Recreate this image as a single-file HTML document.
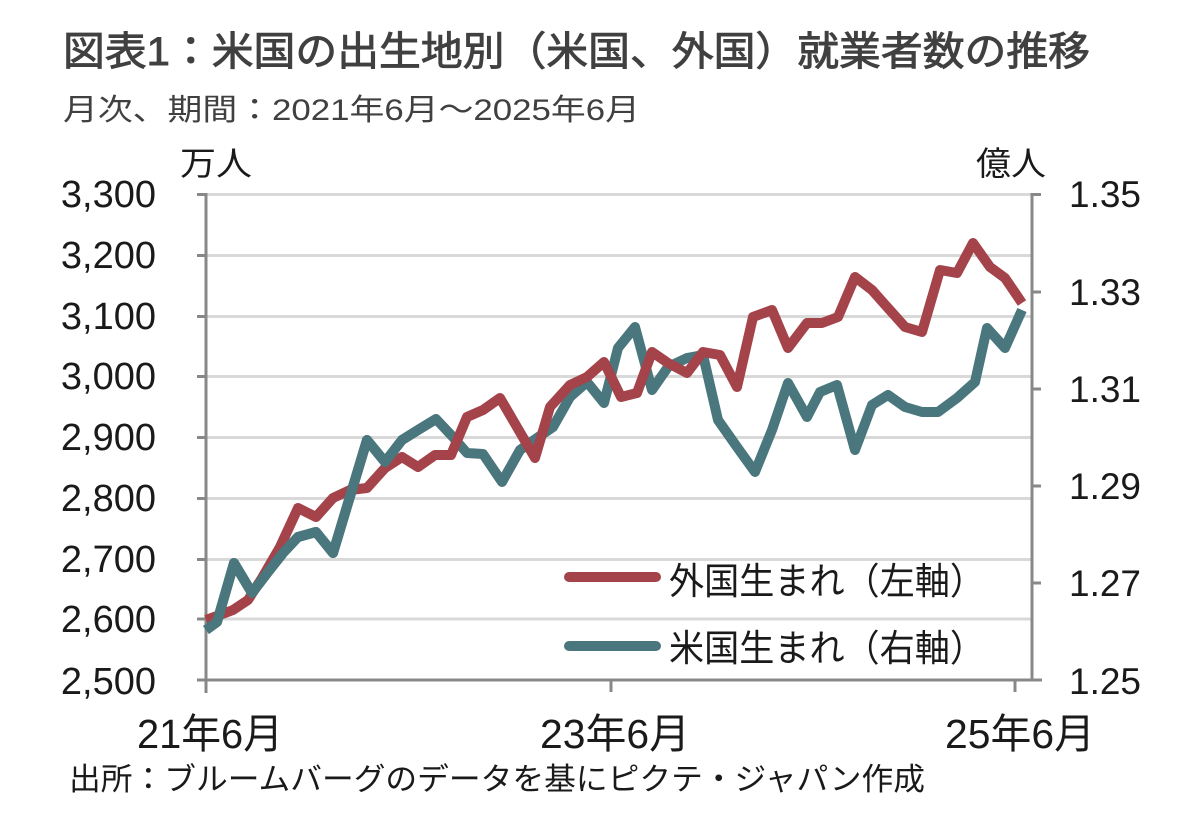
<!DOCTYPE html>
<html>
<head>
<meta charset="utf-8">
<style>
  html, body { margin:0; padding:0; background:#ffffff; }
  body { width:1182px; height:822px; overflow:hidden; }
  svg { display:block; }
  text { font-family: "Liberation Sans", "Noto Sans CJK JP", sans-serif; }
</style>
</head>
<body>
<svg width="1182" height="822" viewBox="0 0 1182 822" xmlns="http://www.w3.org/2000/svg">
  <rect x="0" y="0" width="1182" height="822" fill="#ffffff"/>

  <!-- Title -->
  <text x="63" y="65" font-size="40" fill="#404040" stroke="#404040" stroke-width="0.9" textLength="1027" lengthAdjust="spacingAndGlyphs">図表1：米国の出生地別（米国、外国）就業者数の推移</text>
  <!-- Subtitle -->
  <text x="63" y="120" font-size="30" fill="#404040" textLength="577" lengthAdjust="spacingAndGlyphs">月次、期間：2021年6月～2025年6月</text>

  <!-- unit labels -->
  <text x="180" y="175" font-size="33" fill="#1a1a1a" textLength="72" lengthAdjust="spacingAndGlyphs">万人</text>
  <text x="976" y="175" font-size="33" fill="#1a1a1a" textLength="70" lengthAdjust="spacingAndGlyphs">億人</text>

  <!-- gridlines -->
  <g stroke="#d9d9d9" stroke-width="3">
    <line x1="206" y1="194.5" x2="1032" y2="194.5"/>
    <line x1="206" y1="255.5" x2="1032" y2="255.5"/>
    <line x1="206" y1="316.5" x2="1032" y2="316.5"/>
    <line x1="206" y1="376.5" x2="1032" y2="376.5"/>
    <line x1="206" y1="437.5" x2="1032" y2="437.5"/>
    <line x1="206" y1="498.5" x2="1032" y2="498.5"/>
    <line x1="206" y1="559.5" x2="1032" y2="559.5"/>
    <line x1="206" y1="619" x2="1032" y2="619"/>
  </g>

  <!-- axes -->
  <g stroke="#888888" stroke-width="3" fill="none">
    <line x1="206" y1="193" x2="206" y2="693"/>
    <line x1="197" y1="680" x2="1042" y2="680"/>
    <line x1="1032" y1="193" x2="1032" y2="681"/>
    <!-- left ticks -->
    <line x1="197" y1="194.5" x2="206" y2="194.5"/>
    <line x1="197" y1="255.5" x2="206" y2="255.5"/>
    <line x1="197" y1="316.5" x2="206" y2="316.5"/>
    <line x1="197" y1="376.5" x2="206" y2="376.5"/>
    <line x1="197" y1="437.5" x2="206" y2="437.5"/>
    <line x1="197" y1="498.5" x2="206" y2="498.5"/>
    <line x1="197" y1="559.5" x2="206" y2="559.5"/>
    <line x1="197" y1="619" x2="206" y2="619"/>
    <!-- right ticks -->
    <line x1="1032" y1="194.5" x2="1041" y2="194.5"/>
    <line x1="1032" y1="292" x2="1041" y2="292"/>
    <line x1="1032" y1="389" x2="1041" y2="389"/>
    <line x1="1032" y1="486" x2="1041" y2="486"/>
    <line x1="1032" y1="583" x2="1041" y2="583"/>
    <!-- bottom ticks -->
    <line x1="611" y1="680" x2="611" y2="692"/>
    <line x1="1015" y1="680" x2="1015" y2="692"/>
  </g>

  <!-- left axis labels -->
  <g font-size="38" fill="#1a1a1a" text-anchor="end">
    <text x="156" y="207">3,300</text>
    <text x="156" y="268">3,200</text>
    <text x="156" y="329">3,100</text>
    <text x="156" y="389">3,000</text>
    <text x="156" y="450">2,900</text>
    <text x="156" y="511">2,800</text>
    <text x="156" y="572">2,700</text>
    <text x="156" y="632">2,600</text>
    <text x="156" y="694">2,500</text>
  </g>

  <!-- right axis labels -->
  <g font-size="37" fill="#1a1a1a">
    <text x="1069" y="207">1.35</text>
    <text x="1069" y="305">1.33</text>
    <text x="1069" y="402">1.31</text>
    <text x="1069" y="499">1.29</text>
    <text x="1069" y="596">1.27</text>
    <text x="1069" y="694">1.25</text>
  </g>

  <!-- x axis labels -->
  <g font-size="41" fill="#1a1a1a">
    <text x="137" y="748" textLength="146" lengthAdjust="spacingAndGlyphs">21年6月</text>
    <text x="540" y="748" textLength="150" lengthAdjust="spacingAndGlyphs">23年6月</text>
    <text x="945" y="748" textLength="150" lengthAdjust="spacingAndGlyphs">25年6月</text>
  </g>

  <!-- series: 米国生まれ (teal) -->
  <polyline fill="none" stroke="#4a777d" stroke-width="10" stroke-linejoin="round" stroke-linecap="butt"
    points="206,630 217,622 234,563 252,593 268,572 283,553 298,537 316,532 333,553 367,440 385,462 402,440 418,430 436,419 452,436 467,453 483,454 502,482 520,450 537,438 553,427 570,397 587,382 604,403 618,348 635,327 652,390 668,367 687,358 703,355 718,420 737,447 755,472 772,430 788,383 807,417 820,392 837,385 855,450 872,405 888,395 905,407 922,412 938,412 957,398 975,382 987,328 1005,348 1022,310"/>

  <!-- series: 外国生まれ (red) -->
  <polyline fill="none" stroke="#a4434a" stroke-width="10" stroke-linejoin="round" stroke-linecap="butt"
    points="206,620 217,616 233,610 248,600 262,578 280,547 298,508 316,517 333,498 350,490 367,488 385,468 402,457 418,467 435,455 451,455 467,417 483,410 500,398 535,458 550,407 570,385 587,377 604,362 621,397 637,393 652,352 668,363 687,373 703,352 720,355 737,387 753,317 772,310 788,348 807,323 822,323 838,317 855,277 872,290 888,308 905,327 922,332 940,270 957,273 973,243 990,267 1005,278 1022,303"/>

  <!-- teal on top in early segment -->
  <polyline fill="none" stroke="#4a777d" stroke-width="10" stroke-linejoin="round"
    points="206,630 217,622 234,563 252,593 268,572 283,553 298,537 316,532 333,553 367,440 385,462 402,440 418,430 436,419"/>

  <!-- legend -->
  <line x1="569" y1="577" x2="656" y2="577" stroke="#a4434a" stroke-width="10" stroke-linecap="round"/>
  <text x="669" y="594" font-size="37" fill="#1a1a1a" textLength="316" lengthAdjust="spacingAndGlyphs">外国生まれ（左軸）</text>
  <line x1="569" y1="646" x2="656" y2="646" stroke="#4a777d" stroke-width="10" stroke-linecap="round"/>
  <text x="669" y="661" font-size="37" fill="#1a1a1a" textLength="316" lengthAdjust="spacingAndGlyphs">米国生まれ（右軸）</text>

  <!-- source -->
  <text x="69" y="790" font-size="31" fill="#1a1a1a" textLength="856" lengthAdjust="spacingAndGlyphs">出所：ブルームバーグのデータを基にピクテ・ジャパン作成</text>
</svg>
</body>
</html>
